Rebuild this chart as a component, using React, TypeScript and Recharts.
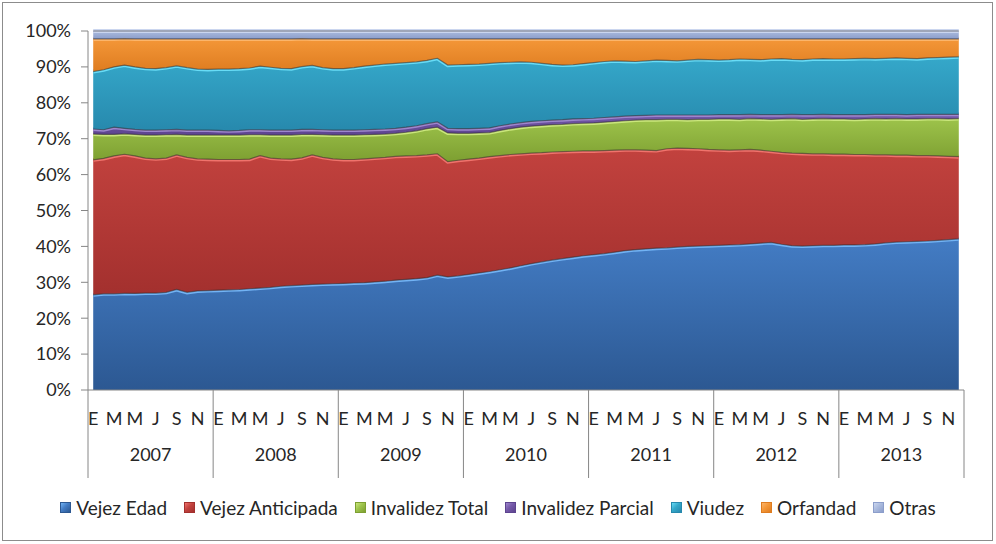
import React from 'react'
import { Area, AreaChart, Legend, XAxis, YAxis } from 'recharts'

// composición mensual de pensiones pagadas, 2007-2013 (%)
const years = ['2007', '2008', '2009', '2010', '2011', '2012', '2013']
const monthLetters = ['E', 'F', 'M', 'A', 'M', 'J', 'J', 'A', 'S', 'O', 'N', 'D']

const vejezEdad = [
  26.5, 26.8, 26.8, 26.9, 26.9, 27.0, 27.0, 27.2, 28.0, 27.2, 27.6, 27.7,
  27.8, 27.9, 28.0, 28.2, 28.4, 28.6, 28.9, 29.1, 29.2, 29.4, 29.5, 29.6,
  29.7, 29.8, 29.9, 30.1, 30.3, 30.6, 30.8, 31.0, 31.3, 32.0, 31.5, 31.8,
  32.2, 32.6, 33.0, 33.5, 34.0, 34.6, 35.2, 35.7, 36.2, 36.6, 37.0, 37.4,
  37.7, 38.0, 38.4, 38.8, 39.1, 39.3, 39.5, 39.6, 39.8, 40.0, 40.1, 40.2,
  40.3, 40.4, 40.5, 40.7, 40.9, 41.1, 40.6, 40.2, 40.1, 40.2, 40.3, 40.3,
  40.4, 40.4, 40.5, 40.7, 41.0, 41.2, 41.3, 41.4, 41.5, 41.7, 41.9, 42.1,
]
const vejezAnticipada = [
  37.6, 37.7, 38.4, 38.7, 38.3, 37.6, 37.4, 37.4, 37.5, 37.6, 36.8, 36.6,
  36.4, 36.3, 36.2, 36.1, 36.9, 36.0, 35.5, 35.2, 35.4, 36.1, 35.3, 34.8,
  34.5, 34.4, 34.5, 34.5, 34.5, 34.5, 34.4, 34.3, 34.2, 33.8, 32.1, 32.2,
  32.1, 32.0, 32.0, 31.8, 31.6, 31.2, 30.8, 30.4, 30.1, 29.8, 29.5, 29.2,
  28.9, 28.7, 28.4, 28.1, 27.8, 27.5, 27.2, 27.6, 27.6, 27.3, 27.1, 26.8,
  26.6, 26.4, 26.4, 26.3, 25.9, 25.4, 25.6, 25.8, 25.8, 25.6, 25.5, 25.4,
  25.3, 25.2, 25.1, 24.8, 24.5, 24.2, 24.1, 23.9, 23.8, 23.5, 23.2, 22.9,
]
const invalidezTotal = [
  7.2, 6.7, 6.0, 5.7, 6.0, 6.4, 6.6, 6.5, 5.7, 6.2, 6.6, 6.7,
  6.8, 6.8, 6.8, 6.8, 5.8, 6.4, 6.6, 6.7, 6.5, 5.7, 6.3, 6.6,
  6.8, 6.8, 6.7, 6.6, 6.5, 6.4, 6.6, 6.9, 7.3, 7.4, 8.0, 7.5,
  7.2, 7.0, 6.7, 7.0, 7.2, 7.4, 7.5, 7.6, 7.6, 7.6, 7.7, 7.7,
  7.8, 7.9, 8.0, 8.1, 8.3, 8.5, 8.6, 8.2, 8.0, 8.0, 8.2, 8.4,
  8.6, 8.7, 8.5, 8.6, 8.7, 8.9, 9.3, 9.6, 9.5, 9.7, 9.8, 9.8,
  9.8, 9.8, 9.9, 10.1, 10.0, 10.2, 10.1, 10.2, 10.3, 10.4, 10.4, 10.6,
]
const invalidezParcial = [
  1.4, 1.3, 2.0, 1.5, 1.4, 1.4, 1.4, 1.4, 1.4, 1.4, 1.4, 1.4,
  1.3, 1.2, 1.3, 1.4, 1.4, 1.4, 1.4, 1.4, 1.4, 1.4, 1.4, 1.4,
  1.4, 1.4, 1.4, 1.4, 1.4, 1.4, 1.4, 1.4, 1.4, 1.5, 1.3, 1.3,
  1.3, 1.3, 1.3, 1.3, 1.3, 1.3, 1.3, 1.3, 1.3, 1.3, 1.3, 1.3,
  1.3, 1.3, 1.3, 1.3, 1.2, 1.2, 1.3, 1.2, 1.2, 1.3, 1.2, 1.2,
  1.2, 1.2, 1.3, 1.2, 1.2, 1.3, 1.2, 1.2, 1.3, 1.2, 1.2, 1.2,
  1.2, 1.3, 1.2, 1.2, 1.3, 1.2, 1.2, 1.3, 1.2, 1.2, 1.3, 1.2,
]
const viudez = [
  16.0, 16.7, 16.8, 17.6, 17.4, 17.2, 17.1, 17.3, 17.7, 17.4, 17.0, 16.9,
  17.1, 17.2, 17.2, 17.2, 17.7, 17.5, 17.2, 17.1, 17.5, 17.8, 17.3, 17.1,
  17.1, 17.4, 17.7, 17.9, 18.1, 18.1, 18.0, 17.8, 17.6, 17.7, 17.6, 17.8,
  17.9, 17.9, 18.0, 17.6, 17.2, 16.9, 16.5, 16.0, 15.5, 15.2, 15.1, 15.3,
  15.5, 15.6, 15.6, 15.3, 15.1, 15.2, 15.3, 15.2, 15.1, 15.3, 15.5, 15.4,
  15.2, 15.3, 15.5, 15.3, 15.3, 15.5, 15.6, 15.3, 15.3, 15.5, 15.5, 15.5,
  15.5, 15.6, 15.7, 15.5, 15.6, 15.7, 15.7, 15.5, 15.7, 15.8, 15.9, 16.0,
]
const orfandad = [
  9.1, 8.6, 7.8, 7.4, 7.8, 8.2, 8.3, 8.0, 7.5, 8.0, 8.4, 8.5,
  8.4, 8.4, 8.3, 8.1, 7.6, 7.9, 8.2, 8.3, 7.8, 7.4, 8.0, 8.3,
  8.3, 8.0, 7.6, 7.3, 7.0, 6.8, 6.6, 6.4, 6.0, 5.4, 7.3, 7.2,
  7.1, 7.0, 6.8, 6.6, 6.5, 6.4, 6.5, 6.8, 7.1, 7.3, 7.2, 6.9,
  6.6, 6.3, 6.1, 6.2, 6.3, 6.1, 5.9, 6.0, 6.1, 5.9, 5.7, 5.8,
  5.9, 5.8, 5.6, 5.7, 5.8, 5.6, 5.5, 5.7, 5.8, 5.6, 5.5, 5.6,
  5.6, 5.5, 5.4, 5.5, 5.4, 5.3, 5.4, 5.5, 5.3, 5.2, 5.1, 5.0,
]
const otras = [
  2.2, 2.2, 2.2, 2.1, 2.2, 2.2, 2.2, 2.2, 2.2, 2.2, 2.2, 2.2,
  2.2, 2.2, 2.2, 2.2, 2.2, 2.2, 2.2, 2.2, 2.1, 2.2, 2.2, 2.2,
  2.2, 2.2, 2.2, 2.2, 2.2, 2.2, 2.2, 2.2, 2.2, 2.2, 2.2, 2.2,
  2.2, 2.2, 2.2, 2.2, 2.2, 2.2, 2.2, 2.2, 2.2, 2.2, 2.2, 2.2,
  2.2, 2.2, 2.2, 2.2, 2.2, 2.2, 2.2, 2.2, 2.2, 2.2, 2.2, 2.2,
  2.2, 2.2, 2.2, 2.2, 2.2, 2.2, 2.2, 2.2, 2.2, 2.2, 2.2, 2.2,
  2.2, 2.2, 2.2, 2.2, 2.2, 2.2, 2.2, 2.2, 2.2, 2.2, 2.2, 2.2,
]
const yTicks = [0, 0.1, 0.2, 0.3, 0.4, 0.5, 0.6, 0.7, 0.8, 0.9, 1]

const series = [
  { key: 'vejezEdad', name: 'Vejez Edad', top: '#437cc4', bottom: '#2c5892', edge: '#72b3f4' },
  { key: 'vejezAnticipada', name: 'Vejez Anticipada', top: '#c2423e', bottom: '#a3302e', edge: '#f0736c' },
  { key: 'invalidezTotal', name: 'Invalidez Total', top: '#9dc34b', bottom: '#7d9f31', edge: '#cae67c' },
  { key: 'invalidezParcial', name: 'Invalidez Parcial', top: '#7559a9', bottom: '#5d448f', edge: '#9d86cd' },
  { key: 'viudez', name: 'Viudez', top: '#35a8ca', bottom: '#2789ad', edge: '#68dcf6' },
  { key: 'orfandad', name: 'Orfandad', top: '#f49738', bottom: '#de7c20', edge: '#fbb56b' },
  { key: 'otras', name: 'Otras', top: '#abbbde', bottom: '#8c9ecb', edge: '#cbd6ef' },
]

const data = years.flatMap((anio, yi) =>
  monthLetters.map((mes, mi) => {
    const i = yi * 12 + mi
    return {
      id: `${anio}-${mi + 1}`,
      mes,
      anio,
      vejezEdad: vejezEdad[i],
      vejezAnticipada: vejezAnticipada[i],
      invalidezTotal: invalidezTotal[i],
      invalidezParcial: invalidezParcial[i],
      viudez: viudez[i],
      orfandad: orfandad[i],
      otras: otras[i],
    }
  })
)

const PLOT_W = 876
const HALF = PLOT_W / data.length / 2
const AXIS = '#868686'
const TEXT = '#262626'

// month initials every other month, year labels and separators below them
function MonthTick({ x, y, index }: any) {
  const row = data[index]
  const mi = index % 12
  return (
    <g>
      {mi % 2 === 0 && (
        <text x={x} y={y + 35} textAnchor='middle' fontSize={18} fill={TEXT}>
          {row.mes}
        </text>
      )}
      {mi === 0 && <line x1={x - HALF} x2={x - HALF} y1={y} y2={y + 88} stroke={AXIS} />}
      {index === data.length - 1 && <line x1={x + HALF} x2={x + HALF} y1={y} y2={y + 88} stroke={AXIS} />}
      {mi === 6 && (
        <text x={x - HALF} y={y + 71} textAnchor='middle' fontSize={18} fill={TEXT}>
          {row.anio}
        </text>
      )}
    </g>
  )
}

function LegendBox() {
  return (
    <div style={{ display: 'flex', justifyContent: 'center', alignItems: 'center', height: 30, fontSize: 19, color: TEXT }}>
      {series.map((s, i) => (
        <span key={s.key} style={{ display: 'flex', alignItems: 'center', marginRight: i < series.length - 1 ? 17 : 0 }}>
          <span
            style={{
              width: 9,
              height: 9,
              marginRight: 5,
              border: `1px solid ${s.bottom}`,
              background: `linear-gradient(135deg, ${s.edge}, ${s.top} 45%, ${s.bottom})`,
            }}
          />
          {s.name}
        </span>
      ))}
    </div>
  )
}

export default function App() {
  return (
    <div style={{ position: 'absolute', left: 0, top: 0, width: 996, height: 544, background: '#fff', fontFamily: 'Lato, sans-serif' }}>
      <div style={{ position: 'absolute', left: 2, top: 2, width: 989, height: 537, border: '1px solid #8c8c8c' }} />
      <AreaChart
        width={996}
        height={544}
        data={data}
        stackOffset='expand'
        margin={{ top: 31, right: 0, bottom: 22, left: 0 }}
      >
        <defs>
          {series.map((s) => (
            <linearGradient key={s.key} id={`g-${s.key}`} x1='0' y1='0' x2='0' y2='1'>
              <stop offset='0%' stopColor={s.top} />
              <stop offset='100%' stopColor={s.bottom} />
            </linearGradient>
          ))}
        </defs>
        <XAxis
          dataKey='id'
          interval={0}
          tickLine={false}
          tickSize={0}
          tickMargin={0}
          height={102}
          padding={{ left: HALF, right: HALF }}
          axisLine={{ stroke: AXIS }}
          tick={<MonthTick />}
        />
        <YAxis
          domain={[0, 1]}
          ticks={yTicks}
          width={88}
          tickSize={7}
          tickMargin={10}
          axisLine={{ stroke: AXIS }}
          tickLine={{ stroke: AXIS }}
          tick={{ fill: TEXT, fontSize: 18 }}
          tickFormatter={(v) => `${Math.round(v * 100)}%`}
        />
        <YAxis
          yAxisId='right'
          orientation='right'
          domain={[0, 1]}
          ticks={yTicks}
          width={32}
          tickSize={7}
          tick={false}
          axisLine={false}
          tickLine={{ stroke: AXIS }}
        />
        <Legend verticalAlign='bottom' content={<LegendBox />} />
        {series.map((s) => (
          <Area
            key={s.key}
            type='linear'
            dataKey={s.key}
            name={s.name}
            stackId='a'
            fill={`url(#g-${s.key})`}
            fillOpacity={1}
            stroke={s.edge}
            strokeWidth={4}
            isAnimationActive={false}
          />
        ))}
        {/* thin dark seams drawn over each band boundary */}
        {series.map((s) => (
          <Area
            key={`seam-${s.key}`}
            type='linear'
            dataKey={s.key}
            stackId='seams'
            fill='none'
            stroke='#2e2a2a'
            strokeOpacity={0.55}
            strokeWidth={1.2}
            legendType='none'
            isAnimationActive={false}
          />
        ))}
      </AreaChart>
    </div>
  )
}
